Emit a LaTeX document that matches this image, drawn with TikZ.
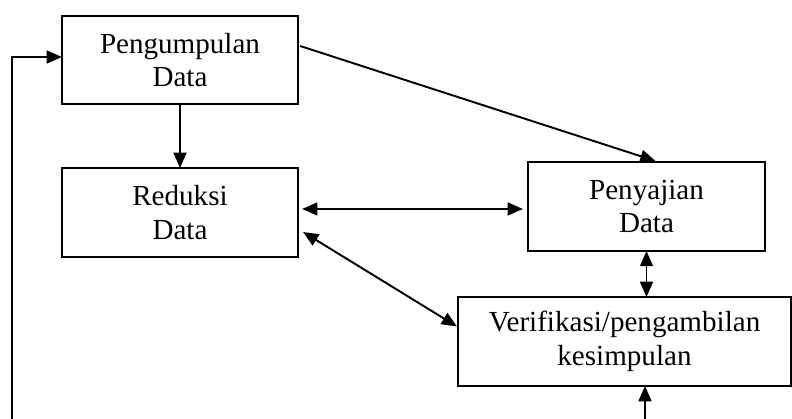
\documentclass[tikz,border=0pt]{standalone}
\usepackage{fontspec}
\setmainfont{Liberation Serif}
\usetikzlibrary{arrows.meta,calc}

\tikzset{
  >={Triangle[length=6.3pt,width=5.3pt]},
  stage/.style={draw,line width=0.8pt,inner sep=0pt,outer sep=0pt,align=center,
    minimum height=36.7pt,font=\fontsize{12}{13.8}\selectfont},
  flow/.style={line width=0.8pt}
}

\begin{document}
\begin{tikzpicture}[x=0.4125pt,y=0.4125pt]
    \useasboundingbox (0,0) rectangle (792,419);

    \node[stage,minimum width=97.4pt,minimum height=36.3pt] (kumpul) at (180,359) {Pengumpulan\\Data};
    \node[stage,minimum width=97.4pt] (reduksi) at (180,206.5) {Reduksi\\Data};
    \node[stage,minimum width=97.8pt] (sajian) at (646.5,212.5) {Penyajian\\Data};
    \node[stage,minimum width=137.4pt] (verif) at (624.5,77.5) {Verifikasi/pengambilan\\kesimpulan};

    \coordinate (loopA) at (12,-3);
    \coordinate (loopB) at (645,-3);
    \coordinate (lvl) at (0,210);

    \draw[flow,->] (kumpul.south) -- (reduksi.north);
    \draw[flow,->] ($(kumpul.east)+(2,14)$) -- ($(sajian.north)+(9,1)$);
    \draw[flow,<->] ($(reduksi.east |- lvl)+(4,0)$) -- ($(sajian.west |- lvl)+(-5,0)$);
    \draw[flow,<->] ($(reduksi.south east)+(5,25)$) -- ($(verif.west)+(-1,15)$);
    \draw[flow,<->] (sajian.south) -- (sajian.south |- verif.north);
    \draw[flow,->] (loopB) -- (loopB |- verif.south);
    \draw[flow,->] (loopA) |- ($(kumpul.west)+(0,3)$);
\end{tikzpicture}
\end{document}
